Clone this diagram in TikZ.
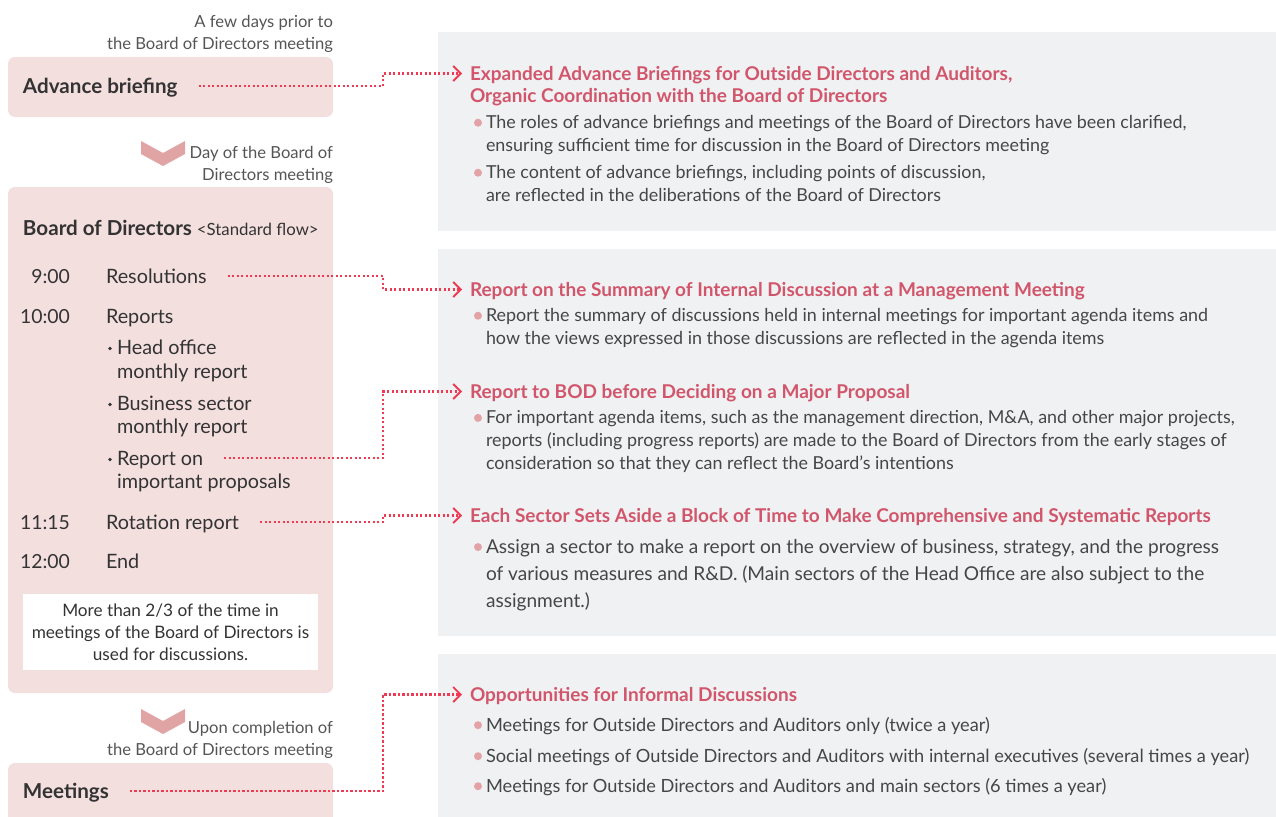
\documentclass[tikz,border=0pt]{standalone}
\usepackage{fontspec}
\setmainfont{Lato}
\usetikzlibrary{arrows.meta,positioning,calc}
\definecolor{pinkbg}{HTML}{F4DFDF}
\definecolor{graybg}{HTML}{F0F1F3}
\definecolor{chevc}{HTML}{E0A4A4}
\definecolor{linkred}{HTML}{EE3A52}
\definecolor{headred}{HTML}{D2566B}
\definecolor{dotc}{HTML}{E3A3A6}
\definecolor{ink}{HTML}{333333}
\definecolor{bodyink}{HTML}{464646}
\definecolor{noteink}{HTML}{555555}

\begin{document}
\begin{tikzpicture}[
  x=1pt, y=-1pt,
  every node/.style={inner sep=0pt, outer sep=0pt},
  pinkbox/.style={fill=pinkbg, rounded corners=7pt, anchor=north west},
  graybox/.style={fill=graybg, anchor=north west},
  note/.style={anchor=base east, align=right, text=noteink, font=\fontsize{16.6}{22}\selectfont},
  stage/.style={anchor=base west, text=ink, font=\fontsize{20.6}{24}\selectfont\bfseries, text height=14pt, text depth=0pt},
  time/.style={anchor=base east, text=ink, font=\fontsize{19.4}{24}\selectfont},
  item/.style={anchor=base west, text=ink, font=\fontsize{19.8}{24}\selectfont, text height=14pt, text depth=0pt},
  head/.style={anchor=base west, text=headred, font=\fontsize{19}{22}\selectfont\bfseries, text height=13pt, text depth=0pt},
  body/.style={anchor=base west, align=left, text=bodyink, font=\fontsize{17.9}{22.8}\selectfont},
  bigbody/.style={body, font=\fontsize{19.1}{27}\selectfont},
  link/.style={linkred, line width=2.2pt, dash pattern=on 2.2pt off 2.3pt, shorten <=21pt, shorten >=8pt,
    -{Straight Barb[length=7.5pt,width=15pt,line width=1.8pt]}},
  bul/.style={fill=dotc},
  chev/.style={fill=chevc},
]
\useasboundingbox (0,0) rectangle (1276,816);
\clip (0,0) rectangle (1276,816);

% left column: stages of a meeting
\node[note] (pre) at (333,50) {A few days prior to\\the Board of Directors meeting};
\node[pinkbox, minimum width=325, minimum height=60] (briefbox) at (8,57) {};
\node[stage] (brief) at (23,93) {Advance briefing};

\fill[chev] (141,141) -- (163,153) -- (185,141) -- (185,154) -- (163,166) -- (141,154) -- cycle;
\node[note] (day) at (333,180) {Day of the Board of\\Directors meeting};

\node[pinkbox, minimum width=325, minimum height=506] (bodbox) at (8,187) {};
\node[stage] (bod) at (23,235) {Board of Directors};
\node[anchor=base west, text=ink, font=\fontsize{16.8}{20}\selectfont] (flow) at ([xshift=5pt]bod.base east) {<Standard flow>};

\node[time] (t1) at (70,283) {9:00};
\node[time] (t2) at (70,323) {10:00};
\node[time] (t3) at (70,529) {11:15};
\node[time] (t4) at (70,568) {12:00};

\node[item] (resol) at (106,283) {Resolutions};
\node[item] (rep) at (106,323) {Reports};
\node[item] (head1) at (117,354) {Head office};
\node[item] (head2) at (117,378) {monthly report};
\node[item] (sect1) at (117,410) {Business sector};
\node[item] (sect2) at (117,433) {monthly report};
\node[item] (prop) at (117,465) {Report on};
\node[item] (prop2) at (117,488) {important proposals};
\node[item] (rot) at (106,529) {Rotation report};
\node[item] (fin) at (106,568) {End};
\foreach \n in {head1,sect1,prop}
  \fill[ink] ([xshift=-7pt,yshift=5.5pt]\n.base west) circle (1.8pt);

\node[fill=white, minimum width=295, minimum height=76, align=center, text=ink,
  font=\fontsize{17.2}{22}\selectfont] (share) at (170.5,632)
  {More than 2/3 of the time in\\meetings of the Board of Directors is\\used for discussions.};

\begin{scope}[shift={(0,568)}]
  \fill[chev] (141,141) -- (163,153) -- (185,141) -- (185,154) -- (163,166) -- (141,154) -- cycle;
\end{scope}
\node[note] (after) at (333,755) {Upon completion of\\the Board of Directors meeting};
\node[pinkbox, minimum width=325, minimum height=80] (meetbox) at (8,763) {};
\node[stage] (meet) at (23,798) {Meetings};

% right column: measures
\node[graybox, minimum width=838, minimum height=199] (panA) at (438,32) {};
\node[graybox, minimum width=838, minimum height=387] (panB) at (438,249) {};
\node[graybox, minimum width=838, minimum height=170] (panC) at (438,654) {};

\node[head] (hA) at (470,80) {Expanded Advance Briefings for Outside Directors and Auditors,};
\node[head] (hA2) at (470,102) {Organic Coordination with the Board of Directors};
\node[body] (bA1) at (486,151) {The roles of advance briefings and meetings of the Board of Directors have been clarified,\\ensuring sufficient time for discussion in the Board of Directors meeting};
\node[body] (bA2) at (486,201) {The content of advance briefings, including points of discussion,\\are reflected in the deliberations of the Board of Directors};

\node[head] (hB1) at (470,296) {Report on the Summary of Internal Discussion at a Management Meeting};
\node[body] (bB1) at (486,344) {Report the summary of discussions held in internal meetings for important agenda items and\\how the views expressed in those discussions are reflected in the agenda items};

\node[head] (hB2) at (470,398) {Report to BOD before Deciding on a Major Proposal};
\node[body] (bB2) at (486,469) {For important agenda items, such as the management direction, M\&A, and other major projects,\\reports (including progress reports) are made to the Board of Directors from the early stages of\\consideration so that they can reflect the Board’s intentions};

\node[head] (hB3) at (470,522) {Each Sector Sets Aside a Block of Time to Make Comprehensive and Systematic Reports};
\node[bigbody] (bB3) at (486,607) {Assign a sector to make a report on the overview of business, strategy, and the progress\\of various measures and R\&D. (Main sectors of the Head Office are also subject to the\\assignment.)};

\node[head] (hC) at (470,701) {Opportunities for Informal Discussions};
\node[body, font=\fontsize{18.2}{22}\selectfont] (bC1) at (486,731) {Meetings for Outside Directors and Auditors only (twice a year)};
\node[body, font=\fontsize{18.2}{22}\selectfont] (bC2) at (486,762) {Social meetings of Outside Directors and Auditors with internal executives (several times a year)};
\node[body, font=\fontsize{18.2}{22}\selectfont] (bC3) at (486,792) {Meetings for Outside Directors and Auditors and main sectors (6 times a year)};

\foreach \n in {bA1,bA2,bB1,bB2}
  \fill[bul] ([xshift=-8pt,yshift=-7.7pt]\n.north west) circle (4pt);
\fill[bul] ([xshift=-8pt,yshift=-8.1pt]bB3.north west) circle (4pt);
\foreach \n in {bC1,bC2,bC3}
  \fill[bul] ([xshift=-8pt,yshift=5.8pt]\n.base west) circle (4pt);

% dotted links
\coordinate (bend) at (383,0);
\draw[link] (brief.east) -- (brief.east -| bend) |- (hA.west);
\draw[link] (resol.east) -- (resol.east -| bend) |- (hB1.west);
\draw[link] (prop.east) -- (prop.east -| bend) |- (hB2.west);
\draw[link] (rot.east) -- (rot.east -| bend) |- (hB3.west);
\draw[link] (meet.east) -- (meet.east -| bend) |- (hC.west);
\end{tikzpicture}
\end{document}
